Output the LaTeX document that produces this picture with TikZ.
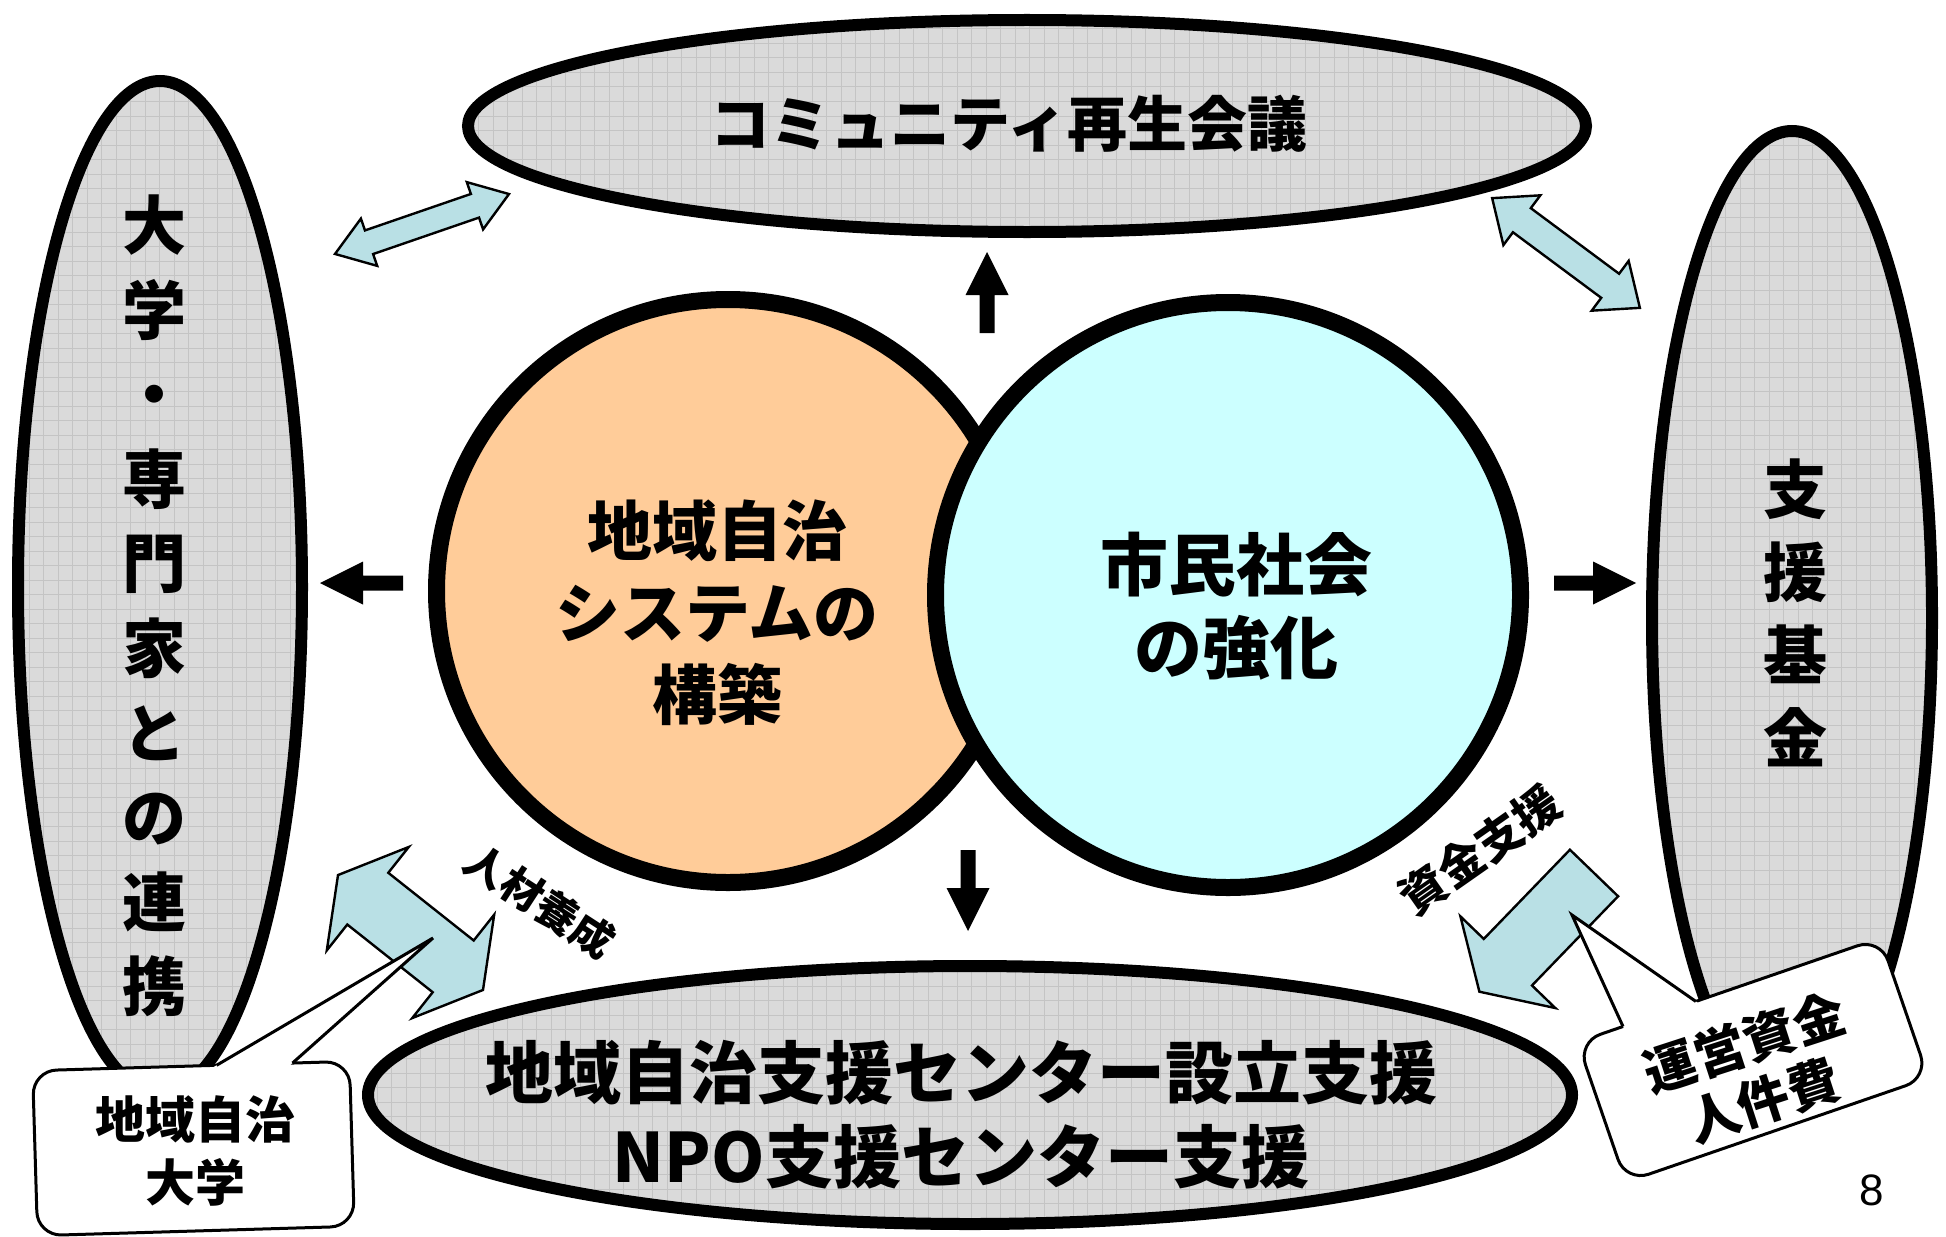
\documentclass[tikz,border=0pt]{standalone}
\usepackage{fontspec}
\usetikzlibrary{calc}
\newfontfamily\jp{Noto Sans CJK JP}
\newfontfamily\lsans{Liberation Sans}
\definecolor{gfill}{RGB}{218,218,218}
\definecolor{ggrid}{RGB}{196,196,196}
\definecolor{orangefill}{RGB}{255,204,153}
\definecolor{cyanfill}{RGB}{204,255,255}
\definecolor{aqua}{RGB}{185,224,229}

% single block arrow: style, tail x, tail y, angle, length, half shaft, half head, head length
\newcommand\sarrow[8]{%
  \path[#1, shift={(#2,#3)}, rotate=#4]
    (0,-#6) -- ({#5-#8},-#6) -- ({#5-#8},-#7) -- (#5,0) -- ({#5-#8},#7) -- ({#5-#8},#6) -- (0,#6) -- cycle;}
% double block arrow: style, center x, center y, angle, half length, half shaft, half head, head length
\newcommand\darrow[8]{%
  \path[#1, shift={(#2,#3)}, rotate=#4]
    (-#5,0) -- ({-#5+#8},-#7) -- ({-#5+#8},-#6) -- ({#5-#8},-#6) -- ({#5-#8},-#7) -- (#5,0)
    -- ({#5-#8},#7) -- ({#5-#8},#6) -- ({-#5+#8},#6) -- ({-#5+#8},#7) -- cycle;}
% gray gridded ellipse: name, cx, cy, rx, ry
\newcommand\gellipse[5]{%
  \begin{scope}
    \clip (#2,#3) ellipse [x radius=#4, y radius=#5];
    \fill[gfill] ({#2-#4},{#3+#5}) rectangle ({#2+#4},{#3-#5});
    \draw[ggrid, line width=0.5pt, step=7.25pt] ({#2-#4},{#3+#5}) grid ({#2+#4},{#3-#5});
  \end{scope}
  \draw[line width=6pt] (#2,#3) ellipse [x radius=#4, y radius=#5];
  \coordinate (#1) at (#2,#3);}

\tikzset{
  blk/.style={fill=black},
  aq/.style={fill=aqua, draw=black, line width=1.2pt, line join=miter},
  cbox/.style={fill=white, draw=black, line width=1.5pt},
  cline/.style={draw=black, line width=1.5pt, line join=miter},
  jtxt/.style={font=\jp\bfseries, align=center, inner sep=0pt},
}

\begin{document}
\begin{tikzpicture}[x=0.5pt, y=-0.5pt]
\useasboundingbox (0,0) rectangle (1946,1236);
\fill[white] (0,0) rectangle (1946,1236);

% gray ellipses
\gellipse{eTop}{1027}{126}{559}{106}
\gellipse{eLeft}{160}{587}{142}{506}
\gellipse{eRight}{1792}{618}{140}{487}
\gellipse{eBot}{970}{1095}{602}{129}

% circles
\draw[line width=8.5pt, fill=orangefill] (728,591) circle [radius=291.5];
\draw[line width=8.5pt, fill=cyanfill] (1228,595) circle [radius=292.5];

% texts
\node[jtxt, font=\jp\bfseries\fontsize{30}{36}\selectfont] (tTop) at (1009,124) {コミュニティ再生会議};
\node[jtxt, font=\jp\bfseries\fontsize{32}{42.3}\selectfont] (tLeft) at (154,606)
  {大\\学\\・\\専\\門\\家\\と\\の\\連\\携};
\node[jtxt, font=\jp\bfseries\fontsize{32}{41.6}\selectfont] (tRight) at (1795,613)
  {支\\援\\基\\金};
\node[jtxt, font=\jp\bfseries\fontsize{32.5}{41}\selectfont] (tC1) at (717,613)
  {地域自治\\システムの\\構築};
\node[jtxt, font=\jp\bfseries\fontsize{34}{41.5}\selectfont] (tC2) at (1236,606)
  {市民社会\\の強化};
\node[jtxt, font=\jp\bfseries\fontsize{34}{42}\selectfont] (tBot) at (961,1115)
  {地域自治支援センター設立支援\\NPO支援センター支援};

% black arrows
\sarrow{blk}{987}{333}{90}{81}{7.5}{21.5}{43}
\sarrow{blk}{968}{850}{-90}{81}{7.5}{21.5}{43}
\sarrow{blk}{403}{583}{180}{83}{7.5}{21.5}{43}
\sarrow{blk}{1554}{583}{0}{82}{7.5}{21.5}{43}

% light blue arrows
\darrow{aq}{422}{224}{19}{92}{12.5}{25}{36}
\darrow{aq}{1566}{253}{-36.6}{92}{15}{31}{37}
\darrow{aq}{410.5}{932.5}{-38.4}{92.5}{33}{66}{38}
\sarrow{aq}{1594}{873}{-134}{165}{33.5}{66}{41}

% rotated labels
\node[jtxt, font=\jp\bfseries\fontsize{21}{25}\selectfont, rotate=-33] (lJinzai) at (540,901) {人材養成};
\node[jtxt, font=\jp\bfseries\fontsize{23}{27}\selectfont, rotate=35] (lShikin) at (1480,850) {資金支援};

% left callout
\begin{scope}[shift={(193.5,1148.5)}, rotate=1.7]
  \draw[cbox, rounded corners=12pt] (-158.5,-82.5) rectangle (158.5,82.5);
  \coordinate (lp1) at (25.5,-82.5);
  \coordinate (lp2) at (101.5,-82.5);
\end{scope}
\coordinate (tipL) at (433,938);
\fill[white] ($(tipL)!1.05!(lp1)$) -- (tipL) -- ($(tipL)!1.05!(lp2)$) -- cycle;
\draw[cline] (lp1) -- (tipL) -- (lp2);
\node[jtxt, font=\jp\bfseries\fontsize{25}{31.5}\selectfont] (cL) at (195,1151) {地域自治\\大学};

% right callout
\begin{scope}[shift={(1753,1060)}, rotate=19]
  \draw[cbox, rounded corners=12pt] (-160,-74) rectangle (160,74);
  \coordinate (rp1) at (-112,-74);
  \coordinate (rp2) at (-35,-74);
\end{scope}
\coordinate (tipR) at (1572,915);
\fill[white] ($(tipR)!1.05!(rp1)$) -- (tipR) -- ($(tipR)!1.05!(rp2)$) -- cycle;
\draw[cline] (rp1) -- (tipR) -- (rp2);
\node[jtxt, font=\jp\bfseries\fontsize{26}{30.5}\selectfont, rotate=18] (cR) at (1754,1072) {運営資金\\人件費};

% page number
\node[font=\lsans\fontsize{22}{26}\selectfont, inner sep=0pt] (pg) at (1872,1190) {8};
\end{tikzpicture}
\end{document}
